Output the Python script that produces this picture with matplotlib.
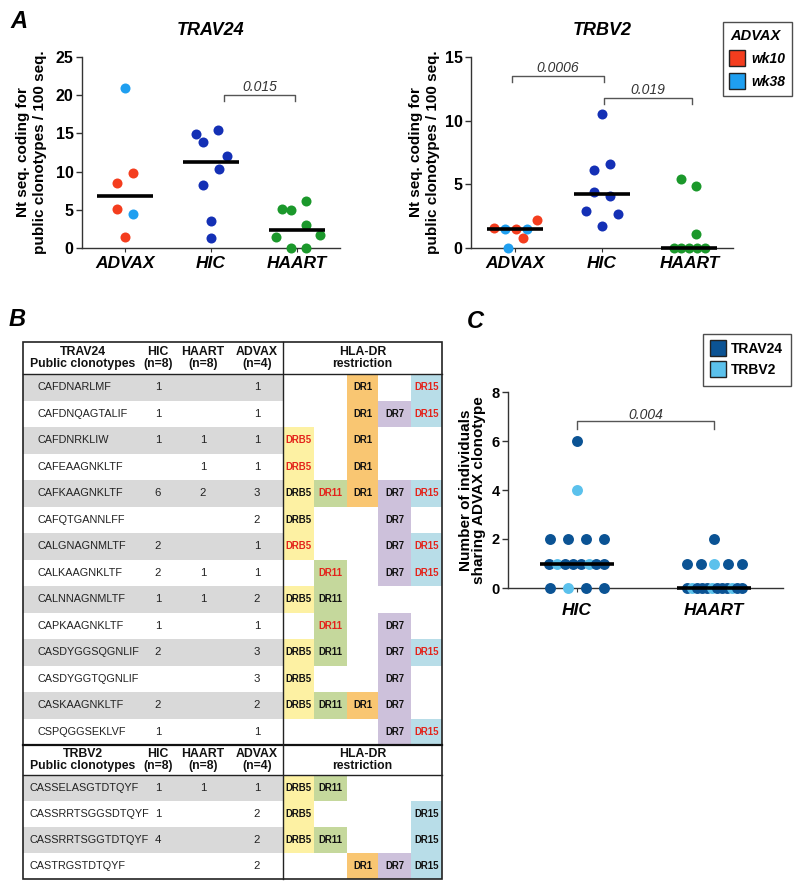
import numpy as np
import matplotlib.pyplot as plt
from matplotlib.patches import Rectangle
from matplotlib.lines import Line2D

plt.rcParams['font.family'] = ['Liberation Sans', 'DejaVu Sans']

# ==========================================
# DATA
# ==========================================
# Panel A - TRAV24 (nt seq. coding for public clonotypes / 100 seq.)
trav_advax_wk10 = [9.8, 8.5, 5.1, 1.5]
trav_advax_wk38 = [21.0, 4.5]
trav_hic = [15.4, 14.9, 13.9, 12.1, 10.3, 8.3, 3.5, 1.3]
trav_haart = [6.2, 5.1, 5.0, 3.0, 1.7, 1.5, 0.0, 0.0]

# Panel A - TRBV2
trbv_advax_wk10 = [1.6, 1.5, 2.2, 0.8]
trbv_advax_wk38 = [1.5, 1.5, 0.0]
trbv_hic = [10.5, 6.6, 6.1, 4.4, 4.1, 2.9, 2.7, 1.7]
trbv_haart = [5.4, 4.9, 1.1, 0.0, 0.0, 0.0, 0.0, 0.0]

# horizontal scatter of the dots (category units)
jit_trav_wk10 = [0.09, -0.09, -0.09, 0.0]
jit_trav_wk38 = [0.0, 0.09]
jit_trav_hic = [0.08, -0.17, -0.09, 0.19, 0.09, -0.09, 0.0, 0.0]
jit_trav_haart = [0.10, -0.17, -0.07, 0.10, 0.27, -0.24, -0.07, 0.10]
jit_trbv_wk10 = [-0.24, 0.01, 0.25, 0.09]
jit_trbv_wk38 = [-0.11, 0.14, -0.08]
jit_trbv_hic = [0.0, 0.09, -0.09, -0.09, 0.09, -0.18, 0.18, 0.0]
jit_trbv_haart = [-0.09, 0.08, 0.08, -0.18, -0.09, 0.0, 0.09, 0.18]

groups_a = ['ADVAX', 'HIC', 'HAART']
groups_c = ['HIC', 'HAART']
p_trav = ['0.015']
p_trbv = ['0.0006', '0.019']
p_c = ['0.004']

# Panel B - table
trav_clonotypes = ['CAFDNARLMF', 'CAFDNQAGTALIF', 'CAFDNRKLIW', 'CAFEAAGNKLTF',
                   'CAFKAAGNKLTF', 'CAFQTGANNLFF', 'CALGNAGNMLTF', 'CALKAAGNKLTF',
                   'CALNNAGNMLTF', 'CAPKAAGNKLTF', 'CASDYGGSQGNLIF', 'CASDYGGTQGNLIF',
                   'CASKAAGNKLTF', 'CSPQGGSEKLVF']
trav_hic_n = [1, 1, 1, None, 6, None, 2, 2, 1, 1, 2, None, 2, 1]
trav_haart_n = [None, None, 1, 1, 2, None, None, 1, 1, None, None, None, None, None]
trav_advax_n = [1, 1, 1, 1, 3, 2, 1, 1, 2, 1, 3, 3, 2, 1]

trbv_clonotypes = ['CASSELASGTDTQYF', 'CASSRRTSGGSDTQYF', 'CASSRRTSGGTDTQYF', 'CASTRGSTDTQYF']
trbv_hic_n = [1, 1, 4, None]
trbv_haart_n = [1, None, None, None]
trbv_advax_n = [1, 2, 2, 2]

# HLA-DR restriction: 0 = none, 1 = black label, 2 = red label
hla_names = ['DRB5', 'DR11', 'DR1', 'DR7', 'DR15']
trav_hla = [
    [0, 0, 1, 0, 2],
    [0, 0, 1, 1, 2],
    [2, 0, 1, 0, 0],
    [2, 0, 1, 0, 0],
    [1, 2, 1, 1, 2],
    [1, 0, 0, 1, 0],
    [2, 0, 0, 1, 2],
    [0, 2, 0, 1, 2],
    [1, 1, 0, 0, 0],
    [0, 2, 0, 1, 0],
    [1, 1, 0, 1, 2],
    [1, 0, 0, 1, 0],
    [1, 1, 1, 1, 0],
    [0, 0, 0, 1, 2],
]
trbv_hla = [
    [1, 1, 0, 0, 0],
    [1, 0, 0, 0, 1],
    [1, 1, 0, 0, 1],
    [0, 0, 1, 1, 1],
]

# colours
c_wk10 = '#f43d1e'
c_wk38 = '#1f9ff0'
c_hic = '#1430b5'
c_haart = '#1b982b'
c_trav = '#0b5394'
c_trbv = '#5bc1ec'
c_red_txt = '#e3231b'
hla_fill = ['#fdf1a3', '#c5d89c', '#f9c672', '#cdc1db', '#b8dde8']

# ==========================================
# FIGURE / HELPERS
# ==========================================
W, H = 800, 888
fig = plt.figure(figsize=(W / 100, H / 100), dpi=100)


def fx(x):
    return x / W


def fy(y):
    return 1 - y / H


def px_axes(x0, y0, x1, y1):
    return fig.add_axes([fx(x0), fy(y1), (x1 - x0) / W, (y1 - y0) / H])


def setup_axis(ax, cats, ymax, step, label, label_x, tick_fs, cat_fs, cat_pad, lab_ls):
    ax.set_xlim(-0.5, len(cats) - 0.5)
    ax.set_ylim(0, ymax)
    ax.set_yticks(np.arange(0, ymax + 0.01, step))
    ax.set_xticks(range(len(cats)))
    ax.set_xticklabels(cats, fontsize=cat_fs, fontweight='bold', fontstyle='italic')
    ax.spines[['top', 'right']].set_visible(False)
    ax.spines[['left', 'bottom']].set_linewidth(1.0)
    ax.spines[['left', 'bottom']].set_color('#333')
    ax.tick_params(axis='y', length=4, width=1, labelsize=tick_fs, pad=2, color='#333')
    ax.tick_params(axis='x', length=3, width=0.8, pad=cat_pad, color='#333')
    for t in ax.get_yticklabels():
        t.set_fontweight('bold')
    ax.set_ylabel(label, fontsize=11, fontweight='bold', linespacing=lab_ls)
    ax.yaxis.set_label_coords(label_x, 0.5)
    ax.patch.set_visible(False)


def dots(ax, x, vals, jit, color, s=52):
    ax.scatter(x + np.asarray(jit), vals, s=s, color=color, linewidths=0,
               zorder=3, clip_on=False)


def median_bar(ax, x, vals, half=0.32):
    m = np.median(vals)
    ax.plot([x - half, x + half], [m, m], color='black', lw=2.6, zorder=5,
            solid_capstyle='butt', clip_on=False)


def bracket(ax, x0, x1, y, tick, text, text_y):
    ax.plot([x0, x0, x1, x1], [y - tick, y, y, y - tick], color='#555', lw=1,
            clip_on=False, zorder=2)
    ax.text((x0 + x1) / 2, text_y, text, ha='center', va='center',
            fontsize=10, fontstyle='italic', color='#333')


# ==========================================
# PANEL B - TABLE (pixel coordinates)
# ==========================================
tab = fig.add_axes([0, 0, 1, 1])
tab.set_xlim(0, W)
tab.set_ylim(H, 0)
tab.axis('off')

TX0, TDIV, TX1 = 23, 283, 442
HLA_EDGES = [283, 314, 347, 378, 411, 442]
NUM_X = [158, 203, 257]


def table_block(y0, head_h, row_h, gene, seqs, hic, haart, advax, hla, seq_x):
    cy = y0 + head_h / 2
    hkw = dict(ha='center', va='center', fontsize=8.8, fontweight='bold',
               linespacing=1.1, color='#111')
    tab.text(83, cy, gene + '\nPublic clonotypes', **hkw)
    for x, txt in zip(NUM_X, ['HIC\n(n=8)', 'HAART\n(n=8)', 'ADVAX\n(n=4)']):
        tab.text(x, cy, txt, **hkw)
    tab.text((TDIV + TX1) / 2, cy, 'HLA-DR\nrestriction', **hkw)
    top = y0 + head_h
    tab.plot([TX0, TX1], [top, top], color='#222', lw=1.0)
    for i, seq in enumerate(seqs):
        r0 = top + i * row_h
        rc = r0 + row_h / 2
        if i % 2 == 0:
            tab.add_patch(Rectangle((TX0, r0), TDIV - TX0, row_h, color='#d9d9d9', lw=0))
        tab.text(seq_x, rc, seq, ha='left', va='center', fontsize=7.8, color='#222')
        for x, v in zip(NUM_X, (hic[i], haart[i], advax[i])):
            if v is not None:
                tab.text(x, rc, str(v), ha='center', va='center', fontsize=8.2, color='#222')
        for j, flag in enumerate(hla[i]):
            if flag:
                xl, xr = HLA_EDGES[j], HLA_EDGES[j + 1]
                tab.add_patch(Rectangle((xl, r0), xr - xl, row_h, color=hla_fill[j], lw=0))
                tab.text((xl + xr) / 2, rc, hla_names[j], ha='center', va='center',
                         fontsize=6.9, fontweight='bold',
                         color=c_red_txt if flag == 2 else '#111')
    return top + len(seqs) * row_h


T_TOP = 342
y_mid = table_block(T_TOP, 32, 26.5, 'TRAV24', trav_clonotypes, trav_hic_n,
                    trav_haart_n, trav_advax_n, trav_hla, 38)
y_end = table_block(y_mid, 30, 26, 'TRBV2', trbv_clonotypes, trbv_hic_n,
                    trbv_haart_n, trbv_advax_n, trbv_hla, 30)
tab.plot([TX0, TX1], [y_mid, y_mid], color='#111', lw=1.6)
tab.plot([TDIV, TDIV], [T_TOP, y_end], color='#222', lw=1.0)
tab.add_patch(Rectangle((TX0, T_TOP), TX1 - TX0, y_end - T_TOP, fill=False,
                        ec='#222', lw=1.2))

# ==========================================
# PANEL A - TRAV24
# ==========================================
ax1 = px_axes(82, 57, 340, 248)
ylab_a = 'Nt seq. coding for\npublic clonotypes / 100 seq.'
setup_axis(ax1, groups_a, 25, 5, ylab_a, -0.136, 11.5, 12.5, 3, 1.3)
dots(ax1, 0, trav_advax_wk10, jit_trav_wk10, c_wk10)
dots(ax1, 0, trav_advax_wk38, jit_trav_wk38, c_wk38)
dots(ax1, 1, trav_hic, jit_trav_hic, c_hic)
dots(ax1, 2, trav_haart, jit_trav_haart, c_haart)
median_bar(ax1, 0, trav_advax_wk10 + trav_advax_wk38)
median_bar(ax1, 1, trav_hic)
median_bar(ax1, 2, trav_haart)
bracket(ax1, 1.15, 1.98, 20.0, 0.7, p_trav[0], 21.1)
ax1.set_title('TRAV24', fontsize=13, fontweight='bold', fontstyle='italic', pad=16)

# ==========================================
# PANEL A - TRBV2
# ==========================================
ax2 = px_axes(471, 57, 733, 248)
setup_axis(ax2, groups_a, 15, 5, ylab_a, -0.118, 11.5, 12.5, 3, 1.3)
dots(ax2, 0, trbv_advax_wk10, jit_trbv_wk10, c_wk10)
dots(ax2, 0, trbv_advax_wk38, jit_trbv_wk38, c_wk38)
dots(ax2, 1, trbv_hic, jit_trbv_hic, c_hic)
dots(ax2, 2, trbv_haart, jit_trbv_haart, c_haart)
median_bar(ax2, 0, trbv_advax_wk10 + trbv_advax_wk38)
median_bar(ax2, 1, trbv_hic)
median_bar(ax2, 2, trbv_haart)
bracket(ax2, -0.03, 1.02, 13.5, 0.5, p_trbv[0], 14.1)
bracket(ax2, 1.02, 2.03, 11.8, 0.5, p_trbv[1], 12.4)
ax2.set_title('TRBV2', fontsize=13, fontweight='bold', fontstyle='italic', pad=16)

leg_a = fig.legend(
    handles=[Line2D([], [], marker='s', ls='none', ms=12, mfc=c_wk10, mec='#222', mew=1, label='wk10'),
             Line2D([], [], marker='s', ls='none', ms=12, mfc=c_wk38, mec='#222', mew=1, label='wk38')],
    title='ADVAX', loc='upper right', bbox_to_anchor=(fx(792), fy(22)), borderaxespad=0,
    frameon=True, fancybox=False, edgecolor='#222', alignment='left',
    prop={'weight': 'bold', 'style': 'italic', 'size': 10},
    title_fontproperties={'weight': 'bold', 'style': 'italic', 'size': 10.5},
    handlelength=1.0, handletextpad=0.5, labelspacing=0.65, borderpad=0.5)
leg_a.get_frame().set_linewidth(1.0)

# ==========================================
# PANEL C - number of individuals sharing ADVAX clonotype
# ==========================================
c_hic_trav = [v or 0 for v in trav_hic_n]
c_hic_trbv = [v or 0 for v in trbv_hic_n]
c_haart_trav = [v or 0 for v in trav_haart_n]
c_haart_trbv = [v or 0 for v in trbv_haart_n]


def swarm(ax, x, dark, light, max_step=0.13, max_width=0.4, s=62):
    dark = np.asarray(dark)
    light = np.asarray(light)
    for lv in sorted(set(dark) | set(light)):
        nd, nl = int((dark == lv).sum()), int((light == lv).sum())
        n = nd + nl
        cols = [c_trav] * n
        if nl:
            stride = n / nl
            for k in range(nl):
                cols[int(k * stride + stride / 2 - 0.5)] = c_trbv
        step = min(max_step, max_width / (n - 1)) if n > 1 else 0
        offs = (np.arange(n) - (n - 1) / 2) * step
        for k in range(n):
            ax.scatter(x + offs[k], lv, s=s, color=cols[k], linewidths=0,
                       zorder=3 + k * 0.01, clip_on=False)


axc = px_axes(508, 392, 783, 588)
setup_axis(axc, groups_c, 8, 2, 'Number of individuals\nsharing ADVAX clonotype',
           -0.08, 10.5, 12.5, 8, 0.95)
swarm(axc, 0, c_hic_trav, c_hic_trbv)
swarm(axc, 1, c_haart_trav, c_haart_trbv)
median_bar(axc, 0, c_hic_trav + c_hic_trbv, half=0.27)
median_bar(axc, 1, c_haart_trav + c_haart_trbv, half=0.27)
bracket(axc, 0, 1, 6.8, 0.3, p_c[0], 7.07)

leg_c = fig.legend(
    handles=[Line2D([], [], marker='s', ls='none', ms=12, mfc=c_trav, mec='#222', mew=1, label='TRAV24'),
             Line2D([], [], marker='s', ls='none', ms=12, mfc=c_trbv, mec='#222', mew=1, label='TRBV2')],
    loc='upper right', bbox_to_anchor=(fx(791), fy(334)), borderaxespad=0,
    frameon=True, fancybox=False, edgecolor='#222',
    prop={'weight': 'bold', 'size': 10},
    handlelength=1.0, handletextpad=0.4, labelspacing=0.5, borderpad=0.6)
leg_c.get_frame().set_linewidth(1.0)

# panel letters
for letter, x, y in [('A', 10, 21), ('B', 9, 320), ('C', 467, 321)]:
    fig.text(fx(x), fy(y), letter, fontsize=17, fontweight='bold', fontstyle='italic',
             ha='left', va='center')

fig.savefig('out.png', dpi=100)
